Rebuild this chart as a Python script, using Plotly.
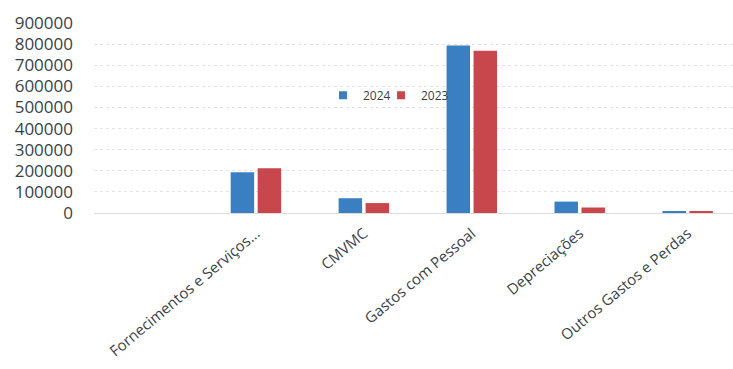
import plotly.graph_objects as go

categories = [" ", "Fornecimentos e Serviços...", "CMVMC", "Gastos com Pessoal", "Depreciações", "Outros Gastos e Perdas"]
values_2024 = [None, 193000, 70000, 793000, 54000, 5000]
values_2023 = [None, 212000, 47000, 768000, 26000, 5000]
y_ticks = [0, 100000, 200000, 300000, 400000, 500000, 600000, 700000, 800000, 900000]
series_names = ["2024", "2023"]
series_colors = ["#3a7fc1", "#c8474d"]

PLOT_L, PLOT_W = 94, 639


def px_to_paper(px):
    return (px - PLOT_L) / PLOT_W


fig = go.Figure()
for name, vals, col in zip(series_names, [values_2024, values_2023], series_colors):
    fig.add_trace(go.Bar(name=name, x=categories, y=vals, marker=dict(color=col, line=dict(width=0)),
                         showlegend=False))

# legend entries (small square swatches like the original)
for name, col, leg in zip(series_names, series_colors, ["legend", "legend2"]):
    fig.add_trace(go.Scatter(name=name, x=[None], y=[None], mode="markers",
                             marker=dict(symbol="square", size=8, color=col), legend=leg))

leg_common = dict(orientation="h", yanchor="middle", y=(212.7 - 95) / 190, xanchor="left",
                  font=dict(size=12, color="#3a3f47"), bgcolor="rgba(0,0,0,0)", itemwidth=30,
                  borderwidth=0)

fig.update_layout(
    width=733, height=369,
    margin=dict(l=PLOT_L, r=0, t=23, b=156),
    paper_bgcolor="white", plot_bgcolor="white",
    barmode="group", bargap=0.5, bargroupgap=0.13,
    font=dict(family="Open Sans", color="#3a3f47"),
    legend=dict(x=px_to_paper(323), **leg_common),
    legend2=dict(x=px_to_paper(381), **leg_common),
    showlegend=True,
)
fig.update_xaxes(
    type="category", range=[-0.5, 5.42], showgrid=False, showline=False, ticks="",
    tickangle=-40, tickfont=dict(size=15, color="#3a3f47"), ticklabelstandoff=8,
    fixedrange=True,
)
fig.update_yaxes(
    range=[0, 900000], tickvals=y_ticks, ticktext=[str(v) for v in y_ticks],
    showgrid=True, gridcolor="#e3e3e3", gridwidth=1, griddash="dot",
    zeroline=True, zerolinecolor="#dcdcdc", zerolinewidth=1,
    showline=False, ticks="", tickfont=dict(size=17, color="#3a3f47"), ticklabelstandoff=20,
)

fig.write_html("out.html")
